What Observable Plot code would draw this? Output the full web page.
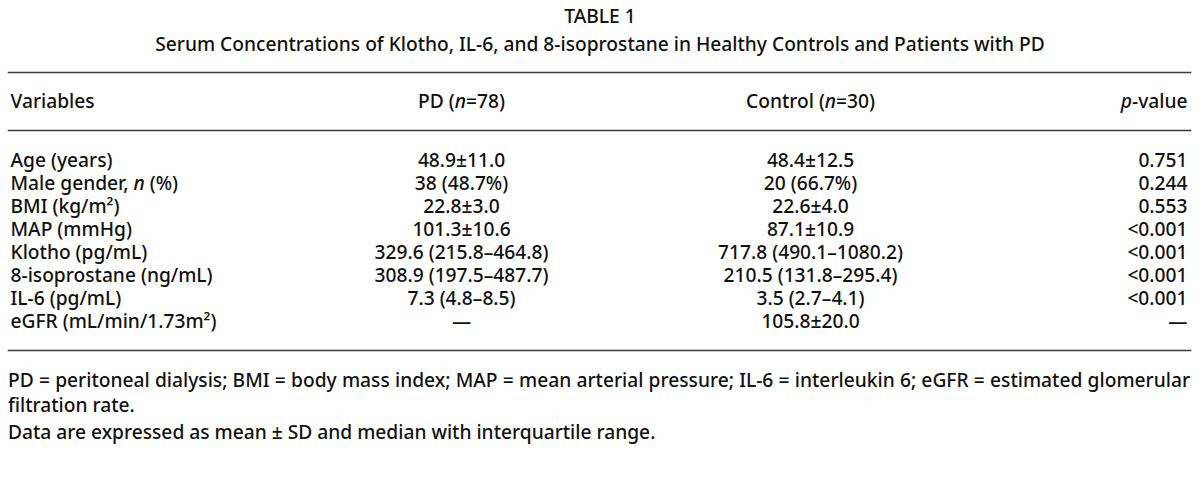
<!DOCTYPE html>
<html>
<head>
<meta charset="utf-8">
<script src="https://cdn.jsdelivr.net/npm/d3@7"></script>
<script src="https://cdn.jsdelivr.net/npm/@observablehq/plot@0.6"></script>
<style>
  html, body { margin: 0; padding: 0; background: #ffffff; }
  #page { position: relative; width: 1200px; height: 483px; overflow: hidden; color: #111111; }
  #page svg { position: absolute; left: 0; display: block; overflow: visible; }
  .line { position: absolute; white-space: nowrap; }
  .center { left: 0; width: 1200px; text-align: center; }
  .foot { left: 8px; width: 1182px; }
  .just { text-align: justify; text-align-last: justify; }
  .probe { position: absolute; left: -5000px; top: 0; white-space: nowrap; font-size: 100px; }
</style>
</head>
<body>
<div id="page"></div>
<script>
// ---------- data ----------
const tableTitle = "TABLE 1";
const tableSubtitle = "Serum Concentrations of Klotho, IL-6, and 8-isoprostane in Healthy Controls and Patients with PD";
const columnHeaders = ["Variables", "PD (n=78)", "Control (n=30)", "p-value"];
const variables = [
  "Age (years)",
  "Male gender, n (%)",
  "BMI (kg/m²)",
  "MAP (mmHg)",
  "Klotho (pg/mL)",
  "8-isoprostane (ng/mL)",
  "IL-6 (pg/mL)",
  "eGFR (mL/min/1.73m²)"
];
const pdValues = [
  "48.9±11.0",
  "38 (48.7%)",
  "22.8±3.0",
  "101.3±10.6",
  "329.6 (215.8–464.8)",
  "308.9 (197.5–487.7)",
  "7.3 (4.8–8.5)",
  "—"
];
const controlValues = [
  "48.4±12.5",
  "20 (66.7%)",
  "22.6±4.0",
  "87.1±10.9",
  "717.8 (490.1–1080.2)",
  "210.5 (131.8–295.4)",
  "3.5 (2.7–4.1)",
  "105.8±20.0"
];
const pValues = ["0.751", "0.244", "0.553", "<0.001", "<0.001", "<0.001", "<0.001", "—"];
const footnotes = [
  "PD = peritoneal dialysis; BMI = body mass index; MAP = mean arterial pressure; IL-6 = interleukin 6; eGFR = estimated glomerular",
  "filtration rate.",
  "Data are expressed as mean ± SD and median with interquartile range."
];

// ---------- layout / style ----------
const INK = "#111111";
const RULE = "#3a3a3a";
const RULE_W = 1.6;
const WEIGHT = 500;
const colRange = [10, 461, 810, 1187];          // column anchors (px)
const colAnchor = ["start", "middle", "middle", "end"];

function probeWidth(family, stretch) {
  const s = document.createElement("span");
  s.className = "probe";
  s.style.fontFamily = family;
  s.style.fontStretch = stretch;
  s.style.fontWeight = WEIGHT;
  s.textContent = footnotes[0];
  document.body.appendChild(s);
  const w = s.getBoundingClientRect().width;
  s.remove();
  return w;
}
// prefer a semi-condensed humanist face; fall back gracefully
let FONT = "'Noto Sans', sans-serif", STRETCH = "normal";
{
  const wn = probeWidth(FONT, "normal");
  const ws = probeWidth(FONT, "semi-condensed");
  const wc = probeWidth(FONT, "condensed");
  if (ws < wn * 0.97 && ws > wc * 1.03) STRETCH = "semi-condensed";
  else if (wc < wn * 0.93) STRETCH = "condensed";
}
const fitW = probeWidth(FONT, STRETCH);
const FS = Math.max(15, Math.min(22, Math.round((1178 / fitW) * 1000) / 10));

const page = document.getElementById("page");
page.style.fontFamily = FONT;
page.style.fontStretch = STRETCH;
page.style.fontWeight = WEIGHT;
page.style.fontSize = FS + "px";

function addLine(text, centerY, cls) {
  const d = document.createElement("div");
  d.className = "line " + cls;
  d.style.top = (centerY - 12) + "px";
  d.style.lineHeight = "24px";
  d.textContent = text;
  page.appendChild(d);
}

addLine(tableTitle, 16, "center");
addLine(tableSubtitle, 44, "center");

const xScale = {type: "linear", domain: [0, 1, 2, 3], range: colRange, axis: null};
const style = {fontFamily: FONT, fontStretch: STRETCH, fontWeight: WEIGHT, fontSize: FS + "px", color: INK, background: "transparent", overflow: "visible"};

function italicize(svg) {
  const ns = "http://www.w3.org/2000/svg";
  svg.querySelectorAll("text").forEach(t => {
    const s = t.textContent;
    const m = s.match(/(^|[\s(])([np])(?=[=\-\s])/);
    if (!m) return;
    const idx = m.index + m[1].length;
    t.textContent = "";
    const a = document.createElementNS(ns, "tspan"); a.textContent = s.slice(0, idx);
    const b = document.createElementNS(ns, "tspan"); b.textContent = s[idx]; b.setAttribute("font-style", "italic");
    const c = document.createElementNS(ns, "tspan"); c.textContent = s.slice(idx + 1);
    t.append(a, b, c);
  });
}

// ---------- header (between top rule and header rule) ----------
const headerCells = columnHeaders.map((h, i) => ({col: i, text: h}));
const header = Plot.plot({
  width: 1200, height: 62,
  marginLeft: 8, marginRight: 10, marginTop: 2, marginBottom: 2,
  x: xScale,
  style,
  marks: [
    Plot.frame({anchor: "top", stroke: RULE, strokeWidth: RULE_W}),
    Plot.frame({anchor: "bottom", stroke: RULE, strokeWidth: RULE_W}),
    ...["start", "middle", "end"].map(a => Plot.text(headerCells, {
      filter: d => colAnchor[d.col] === a,
      x: "col", text: "text", textAnchor: a, fill: INK
    }))
  ]
});
header.style.top = "70px";
italicize(header);
page.appendChild(header);

// ---------- body ----------
const cells = variables.flatMap((v, i) => [
  {row: v, col: 0, text: v},
  {row: v, col: 1, text: pdValues[i]},
  {row: v, col: 2, text: controlValues[i]},
  {row: v, col: 3, text: pValues[i]}
]);
const body = Plot.plot({
  width: 1200, height: 220,
  marginLeft: 8, marginRight: 10, marginTop: 0, marginBottom: 2,
  x: xScale,
  y: {type: "point", domain: variables, range: [28, 189], padding: 0, axis: null},
  style,
  marks: [
    Plot.frame({anchor: "bottom", stroke: RULE, strokeWidth: RULE_W}),
    ...["start", "middle", "end"].map(a => Plot.text(cells, {
      filter: d => colAnchor[d.col] === a,
      x: "col", y: "row", text: "text", textAnchor: a, fill: INK
    }))
  ]
});
body.style.top = "132px";
italicize(body);
page.appendChild(body);

// ---------- footnotes ----------
addLine(footnotes[0], 380, "foot just");
addLine(footnotes[1], 405, "foot");
addLine(footnotes[2], 432, "foot");
</script>
</body>
</html>
